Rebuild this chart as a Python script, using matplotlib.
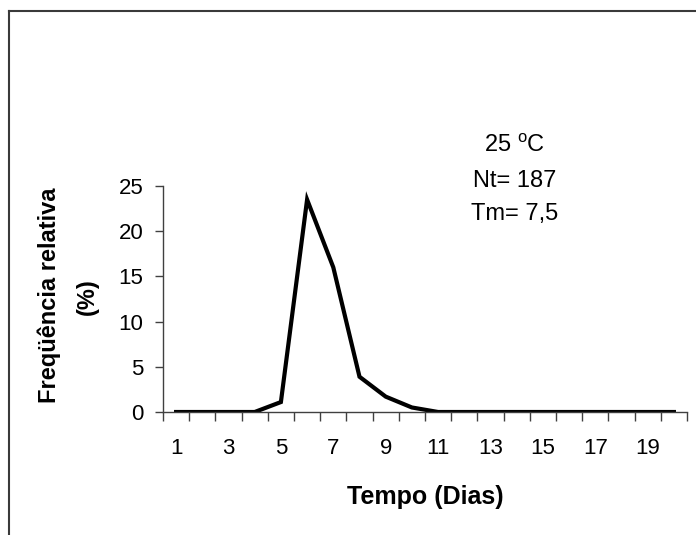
import matplotlib
matplotlib.use("Agg")
import matplotlib.pyplot as plt
from matplotlib.lines import Line2D

plt.rcParams['font.family'] = ['Liberation Sans', 'DejaVu Sans']
plt.rcParams['mathtext.default'] = 'regular'

days = list(range(1, 21))
freq = [0, 0, 0, 0, 1.1, 23.5, 16.0, 3.9, 1.7, 0.5, 0, 0, 0, 0, 0, 0, 0, 0, 0, 0]
xtick_labels = [str(d) for d in range(1, 20, 2)]
yticks = [0, 5, 10, 15, 20, 25]

W, H = 696, 535
fig = plt.figure(figsize=(W / 100, H / 100), dpi=100)

# outer frame (left and top edges visible)
fig.add_artist(Line2D([8.5 / W, 8.5 / W], [0, 1 - 11 / H], transform=fig.transFigure,
                      color='#3a3a3a', lw=1.5))
fig.add_artist(Line2D([8.5 / W, 1], [1 - 11 / H, 1 - 11 / H], transform=fig.transFigure,
                      color='#3a3a3a', lw=1.5))

left, right, top, bottom = 163, 687, 186, 412
ax = fig.add_axes([left / W, 1 - bottom / H, (right - left) / W, (bottom - top) / H])
ax.plot(days, freq, color='black', lw=3.0, solid_joinstyle='miter')

ax.set_xlim(0.5, 20.5)
ax.set_ylim(0, 25)
for s in ['top', 'right']:
    ax.spines[s].set_visible(False)
for s in ['left', 'bottom']:
    ax.spines[s].set_color('#404040')
    ax.spines[s].set_linewidth(1.0)

ax.set_xticks([i + 0.5 for i in range(0, 21)])
ax.set_xticklabels([])
ax.tick_params(axis='x', which='major', direction='out', length=6.5, color='#404040', width=1)
ax.set_xticks(list(range(1, 20, 2)), minor=True)
ax.set_xticklabels(xtick_labels, minor=True, fontsize=16)
ax.tick_params(axis='x', which='minor', length=0, pad=19)

ax.set_yticks(yticks)
ax.set_yticklabels([str(v) for v in yticks], fontsize=16)
ax.tick_params(axis='y', direction='out', length=6, color='#404040', width=1, pad=8)

fig.text(425 / W, 1 - 497 / H, 'Tempo (Dias)', ha='center', va='center',
         fontsize=18, fontweight='bold')
fig.text(49 / W, 1 - 295 / H, 'Freqüência relativa', ha='center', va='center',
         rotation=90, fontsize=17, fontweight='bold')
fig.text(87 / W, 1 - 297 / H, '(%)', ha='center', va='center',
         rotation=90, fontsize=17, fontweight='bold')

fig.text(515 / W, 1 - 146 / H, r'25 $^{o}$C', ha='center', va='center', fontsize=17)
fig.text(515 / W, 1 - 181 / H, 'Nt= 187', ha='center', va='center', fontsize=17)
fig.text(515 / W, 1 - 214 / H, 'Tm= 7,5', ha='center', va='center', fontsize=17)

fig.savefig('out.png', dpi=100)
